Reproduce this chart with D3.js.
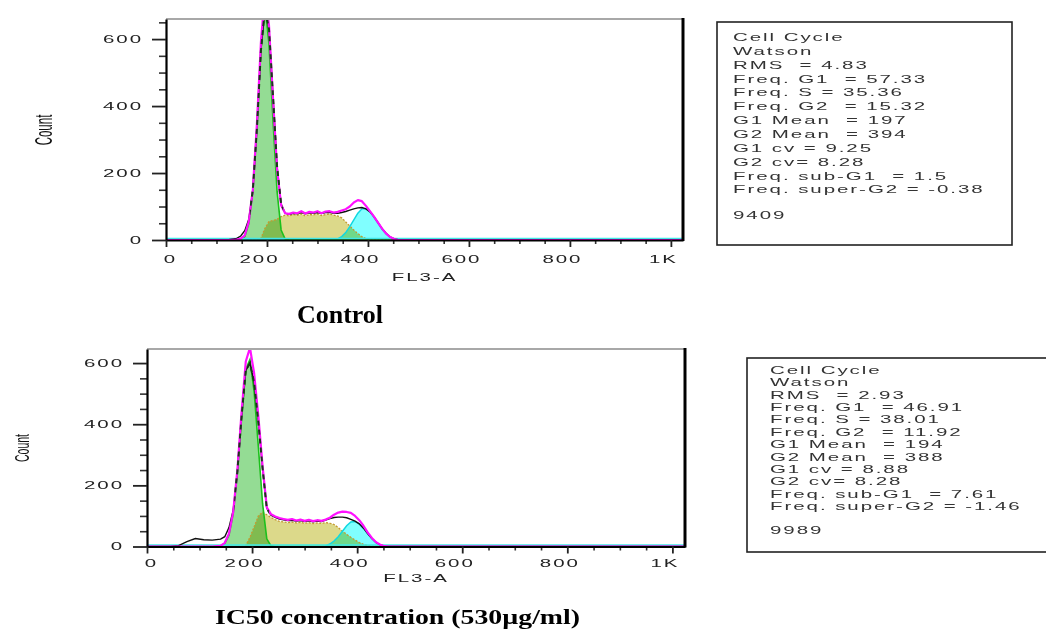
<!DOCTYPE html>
<html><head><meta charset="utf-8">
<script src="https://cdn.jsdelivr.net/npm/d3@7"></script>
<style>
body{margin:0;background:#fff;}
svg{display:block;}
</style></head><body>
<svg id="chart" width="1046" height="631"></svg>
<script>
// ---------- DATA ----------
const channels = [0,44,60,76,92,108,124,
  140,148,156,164,172,180,188,196,204,212,220,228,236,244,252,260,268,276,284,292,300,308,316,324,332,340,348,356,364,372,380,388,396,404,412,420,428,436,444,452,460,468,476,
  484,1024];

const xTickValues = [0,200,400,600,800,1000];
const xTickLabels = ["0","200","400","600","800","1K"];
const xMinorTicks = [50,100,150,250,300,350,450,500,550,650,700,750,850,900,950];
const yTickValues = [0,200,400,600];
const yMinorTicks = [50,100,150,250,300,350,450,500,550,650];

// Control panel
const ctrlData  = [0,0,0,0,0,0,1, 5,12,28,62,150,330,565,690,630,430,220,108,80,76,80,78,82,78,81,80,82,79,82,83,80,80,82,85,89,93,96,97,93,84,70,52,34,20,9,3,1,0,0, 0,0];
const ctrlModel = [0,0,0,0,0,0,0, 1,4,14,55,150,345,590,740,640,420,212,104,80,78,82,80,86,79,84,82,86,80,85,86,82,84,88,92,100,112,119,116,102,86,70,52,34,19,9,3,0,0,0, 0,0];
const ctrlG1    = [0,0,0,0,0,0,0, 0,2,10,50,145,335,575,700,585,355,145,30,3,0,0,0,0,0,0,0,0,0,0,0,0,0,0,0,0,0,0,0,0,0,0,0,0,0,0,0,0,0,0, 0,0];
const ctrlS     = [0,0,0,0,0,0,0, 0,0,0,0,0,0,5,35,55,58,62,70,74,72,76,74,78,72,76,75,78,73,76,78,74,72,66,54,42,30,19,10,4,0,0,0,0,0,0,0,0,0,0, 0,0];
const ctrlG2    = [0,0,0,0,0,0,0, 0,0,0,0,0,0,0,0,0,0,0,0,0,0,0,0,0,0,0,0,0,0,0,0,0,3,10,22,40,60,80,93,94,84,68,50,32,18,8,2,0,0,0, 0,0];

// IC50 panel
const icData  = [0,0,3,16,26,22,21, 24,32,62,118,245,425,575,600,535,405,255,125,102,95,90,87,85,86,83,85,82,84,81,83,82,86,91,95,96,96,94,89,83,74,60,42,26,13,5,1,0,0,0, 0,0];
const icModel = [0,0,0,0,0,0,0, 2,12,42,112,250,440,605,650,565,425,262,128,106,98,93,90,87,90,85,88,84,87,83,86,84,88,94,104,111,114,113,110,100,86,68,46,28,14,6,1,0,0,0, 0,0];
const icG1    = [0,0,0,0,0,0,0, 2,10,37,107,240,420,580,612,505,325,140,25,2,0,0,0,0,0,0,0,0,0,0,0,0,0,0,0,0,0,0,0,0,0,0,0,0,0,0,0,0,0,0, 0,0];
const icS     = [0,0,0,0,0,0,0, 0,0,0,0,0,0,4,30,65,100,112,104,95,88,82,80,78,80,77,79,76,78,75,77,76,78,76,72,62,50,40,30,21,13,7,3,1,0,0,0,0,0,0, 0,0];
const icG2    = [0,0,0,0,0,0,0, 0,0,0,0,0,0,0,0,0,0,0,0,0,0,0,0,0,0,0,0,0,0,0,0,0,2,8,18,32,50,68,80,82,74,60,42,26,13,5,1,0,0,0, 0,0];

const ctrlStats = ["Cell Cycle","Watson","RMS  = 4.83","Freq. G1  = 57.33","Freq. S = 35.36","Freq. G2  = 15.32","G1 Mean  = 197","G2 Mean  = 394","G1 cv = 9.25","G2 cv= 8.28","Freq. sub-G1  = 1.5","Freq. super-G2 = -0.38"];
const ctrlEvents = "9409";
const icStats = ["Cell Cycle","Watson","RMS  = 2.93","Freq. G1  = 46.91","Freq. S = 38.01","Freq. G2  = 11.92","G1 Mean  = 194","G2 Mean  = 388","G1 cv = 8.88","G2 cv= 8.28","Freq. sub-G1  = 7.61","Freq. super-G2 = -1.46"];
const icEvents = "9989";

// ---------- DRAWING ----------
const svg = d3.select("#chart");
svg.append("rect").attr("width",1046).attr("height",631).attr("fill","#fff");
const SX = 1.95;
const tickFont = "Liberation Sans, Arial, sans-serif";

function panel(cfg){
  const x = d3.scaleLinear().domain([0,1024]).range([cfg.left,cfg.right]);
  const y = d3.scaleLinear().domain([0,cfg.ymax]).range([cfg.bottom,cfg.top]);
  const g = svg.append("g");
  const clipId = "clip"+cfg.id;
  svg.append("clipPath").attr("id",clipId).append("rect")
    .attr("x",cfg.left).attr("y",cfg.top).attr("width",cfg.right-cfg.left).attr("height",cfg.bottom-cfg.top+1);
  const plot = g.append("g").attr("clip-path",`url(#${clipId})`);
  const area = d3.area().x((d,i)=>x(channels[i])).y0(y(0)).y1(d=>y(d));
  const line = d3.line().x((d,i)=>x(channels[i])).y(d=>y(d));

  const fills = [[cfg.S,"#dcd98a"],[cfg.G1,"#94dc94"],[cfg.G2,"#80ffff"]];
  fills.forEach(([v,c])=>{
    plot.append("path").attr("d",area(v)).attr("fill",c).style("mix-blend-mode","multiply");
  });
  plot.append("path").attr("d",line(cfg.S)).attr("fill","none").attr("stroke","#c49a30").attr("stroke-width",1.3).attr("stroke-dasharray","2,1.5");
  plot.append("path").attr("d",line(cfg.G2)).attr("fill","none").attr("stroke","#10d8e0").attr("stroke-width",1.5);
  plot.append("path").attr("d",line(cfg.G1)).attr("fill","none").attr("stroke","#1cc01c").attr("stroke-width",1.6);
  plot.append("line").attr("x1",x(0)).attr("x2",x(1024)).attr("y1",y(0)-1.5).attr("y2",y(0)-1.5).attr("stroke","#40e8e8").attr("stroke-width",1.5);
  plot.append("path").attr("d",line(cfg.data)).attr("fill","none").attr("stroke","#111").attr("stroke-width",1.4);
  plot.append("path").attr("d",line(cfg.model)).attr("fill","none").attr("stroke","#ff10ff").attr("stroke-width",2.2).attr("stroke-linejoin","round");
  const clip2 = "clipPeak"+cfg.id;
  svg.append("clipPath").attr("id",clip2).append("rect")
    .attr("x",x(166)).attr("y",cfg.top).attr("width",x(232)-x(166)).attr("height",cfg.bottom-cfg.top);
  g.append("g").attr("clip-path",`url(#${clip2})`).append("path").attr("d",line(cfg.data))
    .attr("fill","none").attr("stroke","#1a3a1a").attr("stroke-width",2).attr("stroke-dasharray","5,4");

  g.append("line").attr("x1",cfg.left).attr("x2",cfg.right).attr("y1",cfg.top).attr("y2",cfg.top).attr("stroke","#a8a8a8").attr("stroke-width",2);
  g.append("line").attr("x1",cfg.right).attr("x2",cfg.right).attr("y1",cfg.top-1).attr("y2",cfg.bottom+1).attr("stroke","#000").attr("stroke-width",3);

  const styleAxis = a => {
    a.attr("font-family",tickFont).attr("font-size",10.5);
    a.selectAll(".tick line").attr("stroke","#222").attr("stroke-width",1.8);
    a.select(".domain").attr("stroke","#000").attr("stroke-width",2.2);
  };
  const yMin = g.append("g").attr("transform",`translate(${cfg.left},0)`)
    .call(d3.axisLeft(y).tickValues(yMinorTicks.filter(v=>v<=cfg.ymax)).tickSize(7).tickFormat("").tickSizeOuter(0));
  yMin.select(".domain").remove();
  yMin.selectAll(".tick line").attr("stroke","#333").attr("stroke-width",1.6);
  const yAx = g.append("g").attr("transform",`translate(${cfg.left},0)`)
    .call(d3.axisLeft(y).tickValues(yTickValues).tickSize(14).tickSizeOuter(0));
  styleAxis(yAx);
  yAx.selectAll("text").attr("x",-cfg.yLabOff/SX).attr("transform",`scale(${SX},1)`)
    .attr("fill","#222").style("letter-spacing","1px");
  const xMin = g.append("g").attr("transform",`translate(0,${cfg.bottom})`)
    .call(d3.axisBottom(x).tickValues(xMinorTicks).tickSize(4).tickFormat("").tickSizeOuter(0));
  xMin.select(".domain").remove();
  xMin.selectAll(".tick line").attr("stroke","#333").attr("stroke-width",1.6);
  const xAx = g.append("g").attr("transform",`translate(0,${cfg.bottom})`)
    .call(d3.axisBottom(x).tickValues(xTickValues).tickFormat((d,i)=>xTickLabels[i]).tickSize(7).tickSizeOuter(0));
  styleAxis(xAx);
  xAx.selectAll("text").attr("y",cfg.xLabOff).attr("dy","0")
    .attr("x",d=>(d===0?4:-8)/SX).attr("transform",`scale(${SX},1)`)
    .attr("fill","#222").style("letter-spacing","1px");
  g.append("text").text("FL3-A").attr("transform",`translate(${cfg.xTitle[0]},${cfg.xTitle[1]}) scale(${SX},1)`)
    .attr("text-anchor","middle").attr("font-family",tickFont).attr("font-size",10.5).attr("fill","#222").style("letter-spacing","1px");
  g.append("text").text("Count").attr("transform",`translate(${cfg.yTitle[0]},${cfg.yTitle[1]}) scale(2,1) rotate(-90)`)
    .attr("text-anchor","middle").attr("dy","0.35em").attr("font-family",tickFont).attr("font-size",cfg.yTitleSize).attr("fill","#111");

  const b = cfg.box;
  g.append("rect").attr("x",b.x).attr("y",b.y).attr("width",b.w).attr("height",b.h)
    .attr("fill","none").attr("stroke","#222").attr("stroke-width",1.6);
  cfg.stats.forEach((s,i)=>{
    g.append("text").text(s).attr("transform",`translate(${b.tx},${b.ty + i*b.dy}) scale(${SX},1)`)
      .attr("font-family",tickFont).attr("font-size",10.5).attr("fill","#333")
      .style("letter-spacing","1px").style("white-space","pre");
  });
  g.append("text").text(cfg.events).attr("transform",`translate(${b.tx},${b.evY}) scale(${SX},1)`)
    .attr("font-family",tickFont).attr("font-size",10.5).attr("fill","#333").style("letter-spacing","1px");
}

panel({id:"a", left:166, right:683, top:19, bottom:240, ymax:660,
  data:ctrlData, model:ctrlModel, G1:ctrlG1, S:ctrlS, G2:ctrlG2,
  yLabOff:23, xLabOff:23.3, xTitle:[424.5,281], yTitle:[44,130], yTitleSize:11.5,
  stats:ctrlStats, events:ctrlEvents,
  box:{x:717,y:22,w:295,h:223,tx:733,ty:41,dy:13.85,evY:219}});

panel({id:"b", left:147, right:685, top:349, bottom:546.5, ymax:646,
  data:icData, model:icModel, G1:icG1, S:icS, G2:icG2,
  yLabOff:23, xLabOff:20.5, xTitle:[416,582], yTitle:[22,448], yTitleSize:10.5,
  stats:icStats, events:icEvents,
  box:{x:747,y:358,w:320,h:194,tx:770,ty:373.8,dy:12.4,evY:533.8}});

svg.append("text").text("Control").attr("x",340).attr("y",323).attr("text-anchor","middle")
  .attr("font-family","Liberation Serif, Times New Roman, serif").attr("font-weight","bold").attr("font-size",26)
  .attr("textLength",86).attr("lengthAdjust","spacingAndGlyphs");
svg.append("text").text("IC50 concentration (530µg/ml)").attr("x",397.5).attr("y",624).attr("text-anchor","middle")
  .attr("font-family","Liberation Serif, Times New Roman, serif").attr("font-weight","bold").attr("font-size",22)
  .attr("textLength",365).attr("lengthAdjust","spacingAndGlyphs");
</script>
</body></html>
